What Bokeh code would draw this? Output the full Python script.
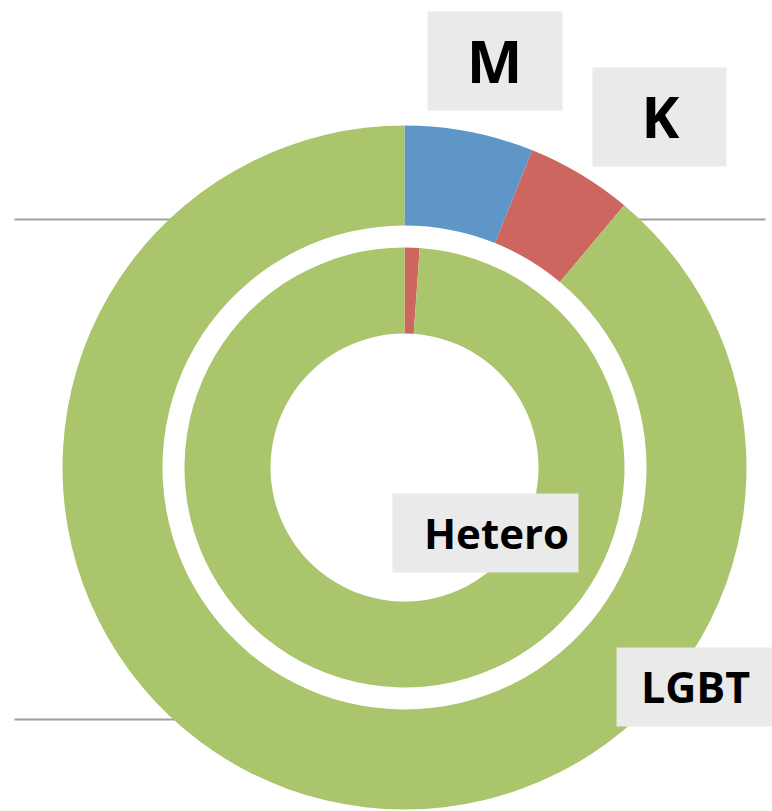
import math
from bokeh.plotting import figure
from bokeh.models import Range1d
from bokeh.core.properties import value
from bokeh.embed import file_html
from bokeh.resources import INLINE

# ---- data ----
categories = ["M", "K", "LGBT"]
outer_values = [6.1, 5.0, 88.9]      # outer ring (percent)
inner_values = [0.0, 1.1, 98.9]      # inner ring (percent)
colors = ["#5E96C8", "#CD665F", "#ABC56C"]

# ---- layout (pixel coordinates of the picture) ----
W, H = 772, 811
OX, OY = 0, 0
SH = 811


def sy(y):
    return SH - y


cx, cy = 404, sy(467)
outer_r = (242, 342)
inner_r = (134, 220)

p = figure(width=W, height=H, output_backend="svg", toolbar_location=None,
           x_range=Range1d(OX, OX + W), y_range=Range1d(sy(OY + H), sy(OY)),
           min_border=0, outline_line_color=None)
p.axis.visible = False
p.grid.visible = False
p.background_fill_color = "white"
p.border_fill_color = "white"

# background horizontal lines
for yy in (219, 719):
    p.segment(x0=14, y0=sy(yy), x1=765, y1=sy(yy), line_color="#A0A0A0", line_width=2)


def ring(vals, r0, r1):
    total = sum(vals)
    cum = 0.0
    starts, ends, cols = [], [], []
    for v, c in zip(vals, colors):
        if v <= 0:
            cum += v
            continue
        a0 = math.pi / 2 - 2 * math.pi * cum / total
        cum += v
        a1 = math.pi / 2 - 2 * math.pi * cum / total
        starts.append(a0)
        ends.append(a1)
        cols.append(c)
    p.annular_wedge(x=cx, y=cy, inner_radius=r0, outer_radius=r1,
                    start_angle=starts, end_angle=ends, direction="clock",
                    fill_color=cols, line_color=None)


ring(outer_values, *outer_r)
ring(inner_values, *inner_r)

# label boxes: (text, left, right, top, bottom, text_x, cap_mid_y, size)
labels = [
    ("M", 427, 562, 11, 110, 494, 59, "59px"),
    ("K", 592, 726, 67, 166, 660, 115, "57px"),
    ("Hetero", 392, 578, 493, 572, 496, 532, "42px"),
    ("LGBT", 616, 772, 647, 726, 695, 686, "43px"),
]
for t, l, r, tp, bt, tx, ty, fs in labels:
    p.quad(left=l, right=r, top=sy(tp), bottom=sy(bt), fill_color="#EAEAEA", line_color=None)
    p.text(x=[tx], y=[sy(ty)], text=[t], text_font=value("Open Sans"),
           text_font_style="bold", text_font_size=fs, text_color="#000000",
           text_align="center", text_baseline="middle")

open("out.html", "w").write(file_html(p, INLINE))
